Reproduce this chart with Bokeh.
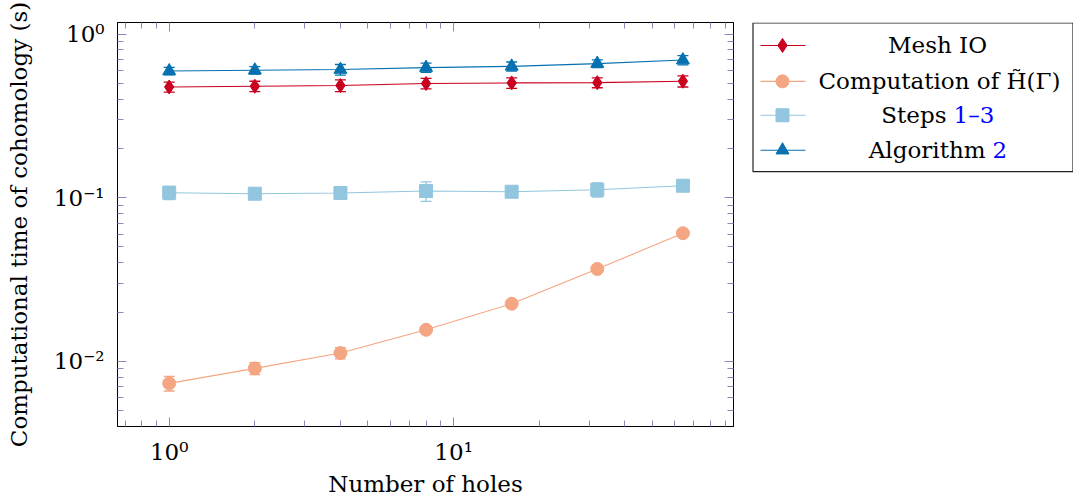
from bokeh.plotting import figure
from bokeh.models import (Range1d, LogAxis, FixedTicker, CustomJSTickFormatter,
                          ColumnDataSource, Whisker, TeeHead)
from bokeh.layouts import row
from bokeh.core.properties import value
from bokeh.embed import file_html
from bokeh.resources import INLINE

# ---------------- data ----------------
holes = [1, 2, 4, 8, 16, 32, 64]
mesh_io = [0.475, 0.480, 0.485, 0.499, 0.503, 0.505, 0.515]
mesh_io_err = [0.033, 0.035, 0.040, 0.037, 0.037, 0.035, 0.040]
cohom = [0.00734, 0.00906, 0.01125, 0.0156, 0.0225, 0.0367, 0.0607]
cohom_err = [0.00075, 0.00075, 0.0009, 0.0005, 0.0006, 0.0010, 0.0015]
steps = [0.1073, 0.1058, 0.1069, 0.1099, 0.1088, 0.1120, 0.1184]
steps_err = [0.010, 0.004, 0.003, 0.015, 0.004, 0.011, 0.004]
algo = [0.595, 0.601, 0.607, 0.624, 0.635, 0.660, 0.694]
algo_err = [0.031, 0.032, 0.045, 0.040, 0.040, 0.036, 0.045]

series_names = ["Mesh IO", "Computation of H\u0303(\u0393)", "Steps 1\u20133", "Algorithm 2"]
colors = ["#CA0020", "#F4A582", "#92C5DE", "#0571B0"]
markers = ["diamond", "circle", "square", "triangle"]
marker_sizes = [14, 13, 13, 13]

x_major = [1, 10]
x_minor = [0.7, 0.8, 0.9, 2, 3, 4, 5, 6, 7, 8, 9, 20, 30, 40, 50, 60, 70, 80, 90]
y_major = [0.01, 0.1, 1]
y_minor = [0.005, 0.006, 0.007, 0.008, 0.009, 0.02, 0.03, 0.04, 0.05, 0.06,
           0.07, 0.08, 0.09, 0.2, 0.3, 0.4, 0.5, 0.6, 0.7, 0.8, 0.9]

FONT = "DejaVu Serif"
FS = "23px"
TICK_COLOR = "#8a8ac0"
TOP, BOTTOM = 22, 72

sup_code = """
const e = Math.round(Math.log10(tick));
const sup = {'-':'\\u207b','0':'\\u2070','1':'\\u00b9','2':'\\u00b2','3':'\\u00b3',
             '4':'\\u2074','5':'\\u2075','6':'\\u2076','7':'\\u2077','8':'\\u2078','9':'\\u2079'};
return '10' + String(e).split('').map(c => sup[c]).join('');
"""

p = figure(width=745, height=499, x_axis_type="log", y_axis_type="log",
           x_range=Range1d(0.658, 96.4), y_range=Range1d(0.0040, 1.177),
           output_backend="svg", toolbar_location=None,
           min_border_left=117, min_border_right=12, min_border_top=TOP, min_border_bottom=BOTTOM)
p.xgrid.visible = False
p.ygrid.visible = False
p.outline_line_color = "black"
p.outline_line_width = 1
p.background_fill_color = "white"
p.border_fill_color = "white"


def style_axis(ax, ticks, minors, labels=True):
    ax.ticker = FixedTicker(ticks=ticks, minor_ticks=minors)
    ax.axis_line_color = "black"
    ax.major_tick_line_color = TICK_COLOR
    ax.minor_tick_line_color = TICK_COLOR
    ax.major_tick_in = 9
    ax.major_tick_out = 0
    ax.minor_tick_in = 6
    ax.minor_tick_out = 0
    if labels:
        ax.formatter = CustomJSTickFormatter(code=sup_code)
        ax.major_label_text_font = FONT
        ax.major_label_text_font_size = FS
        ax.major_label_text_color = "black"
        ax.axis_label_text_font = FONT
        ax.axis_label_text_font_size = FS
        ax.axis_label_text_font_style = "normal"
        ax.axis_label_text_color = "black"
    else:
        ax.major_label_text_font_size = "2px"
        ax.major_label_text_alpha = 0
        ax.major_label_standoff = 0


style_axis(p.xaxis[0], x_major, x_minor)
style_axis(p.yaxis[0], y_major, y_minor)
p.xaxis[0].axis_label = "Number of holes"
p.yaxis[0].axis_label = "Computational time of cohomology (s)"
p.xaxis[0].major_label_standoff = 12
p.xaxis[0].axis_label_standoff = 3
p.yaxis[0].major_label_standoff = 13
p.yaxis[0].axis_label_standoff = 19

top_ax = LogAxis()
style_axis(top_ax, x_major, x_minor, labels=False)
p.add_layout(top_ax, "above")
right_ax = LogAxis()
style_axis(right_ax, y_major, y_minor, labels=False)
p.add_layout(right_ax, "right")

all_vals = [mesh_io, cohom, steps, algo]
all_errs = [mesh_io_err, cohom_err, steps_err, algo_err]

for vals, errs, col, mk, sz in zip(all_vals, all_errs, colors, markers, marker_sizes):
    src = ColumnDataSource(dict(
        x=holes, y=vals,
        upper=[v + e for v, e in zip(vals, errs)],
        lower=[v - e for v, e in zip(vals, errs)],
    ))
    w = Whisker(source=src, base="x", upper="upper", lower="lower",
                line_color=col, line_width=1.3, level="underlay",
                upper_head=TeeHead(size=11, line_color=col, line_width=1.3),
                lower_head=TeeHead(size=11, line_color=col, line_width=1.3))
    p.add_layout(w)
    p.line("x", "y", source=src, line_color=col, line_width=1.1)
    p.scatter("x", "y", source=src, marker=mk, size=sz, fill_color=col, line_color=col)

# ---------------- legend (separate panel, frame aligned with the main frame) ----------------
lg = figure(width=328, height=499, x_range=Range1d(0, 328), y_range=Range1d(499 - BOTTOM, TOP),
            output_backend="svg", toolbar_location=None,
            min_border_left=0, min_border_right=0, min_border_top=TOP, min_border_bottom=BOTTOM,
            x_axis_location=None, y_axis_location=None)
lg.xgrid.visible = False
lg.ygrid.visible = False
lg.outline_line_color = None
lg.background_fill_color = "white"
lg.border_fill_color = "white"

lg.quad(left=[7.5], right=[327.5], top=[22.5], bottom=[171.5],
        fill_color="white", line_color="#222222", line_width=1.2)

row_y = [45, 81, 115, 150]
for yy, col, mk, sz in zip(row_y, colors, markers, marker_sizes):
    lg.line([15, 60], [yy, yy], line_color=col, line_width=1.1)
    lg.scatter([37], [yy], marker=mk, size=sz, fill_color=col, line_color=col)

txt_kw = dict(text_font=value(FONT), text_font_size=value(FS), text_baseline="middle")
lg.text([192], [row_y[0]], text=[series_names[0]], text_align="center", text_color="black", **txt_kw)
lg.text([194], [row_y[1]], text=[series_names[1]], text_align="center", text_color="black", **txt_kw)
lg.text([201], [row_y[2]], text=["Steps"], text_align="right", text_color="black", **txt_kw)
lg.text([208], [row_y[2]], text=["1\u20133"], text_align="left", text_color="blue", **txt_kw)
lg.text([240], [row_y[3]], text=["Algorithm"], text_align="right", text_color="black", **txt_kw)
lg.text([247], [row_y[3]], text=["2"], text_align="left", text_color="blue", **txt_kw)

layout = row(p, lg, spacing=0)
open("out.html", "w").write(file_html(layout, INLINE))
